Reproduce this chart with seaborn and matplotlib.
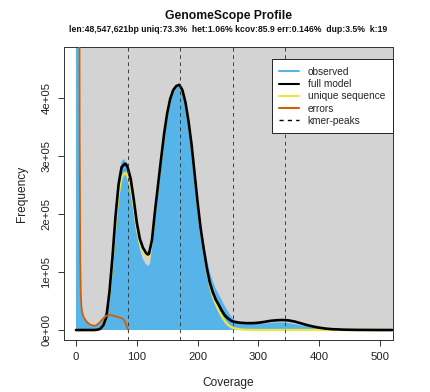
import matplotlib
matplotlib.use("Agg")
import matplotlib.pyplot as plt
import seaborn as sns
import numpy as np
from matplotlib.lines import Line2D
from matplotlib.patches import Rectangle

# ---------------- data (values in units of 1e5) ----------------
cov_model = [0, 30, 35, 40, 45, 50, 55, 60, 65, 70, 75, 80, 82, 85, 90, 95, 100, 105, 110, 115,
             118, 120, 125, 130, 135, 140, 145, 150, 155, 160, 165, 170, 175, 180, 185, 190, 195, 200, 205, 210,
             215, 220, 225, 230, 235, 240, 245, 250, 255, 260, 270, 280, 290, 300, 310, 320, 330, 340, 350, 360,
             370, 380, 390, 400, 410, 420, 440, 460, 480, 500, 520]
full_model = [0, 0, 0.005, 0.02, 0.08, 0.22, 0.65, 1.25, 1.95, 2.5, 2.8, 2.86, 2.86, 2.8, 2.6, 2.25, 1.85, 1.57, 1.42, 1.33,
              1.3, 1.31, 1.55, 2.05, 2.5, 2.95, 3.38, 3.73, 3.98, 4.13, 4.2, 4.22, 4.13, 3.92, 3.6, 3.2, 2.7, 2.2, 1.75, 1.4,
              1.08, 0.82, 0.65, 0.52, 0.43, 0.33, 0.25, 0.2, 0.16, 0.14, 0.125, 0.118, 0.118, 0.125, 0.14, 0.158, 0.168, 0.172, 0.165, 0.145,
              0.115, 0.085, 0.06, 0.04, 0.025, 0.015, 0.006, 0.002, 0.001, 0, 0]
unique_seq = [0, 0, 0.004, 0.018, 0.07, 0.2, 0.6, 1.15, 1.8, 2.32, 2.62, 2.7, 2.7, 2.64, 2.45, 2.12, 1.74, 1.49, 1.36, 1.28,
              1.26, 1.28, 1.52, 2.03, 2.48, 2.93, 3.37, 3.72, 3.97, 4.12, 4.19, 4.21, 4.12, 3.91, 3.58, 3.18, 2.68, 2.17, 1.71, 1.36,
              1.04, 0.77, 0.58, 0.44, 0.33, 0.23, 0.15, 0.09, 0.05, 0.03, 0.01, 0.004, 0.001, 0, 0, 0, 0, 0, 0, 0,
              0, 0, 0, 0, 0, 0, 0, 0, 0, 0, 0]

cov_obs = [0, 1, 2, 3, 4, 5, 6, 7, 8, 9, 10, 12, 15, 18, 21, 25, 29, 33, 38, 44,
           50, 55, 60, 65, 70, 75, 78, 80, 85, 90, 95, 100, 105, 110, 115, 119, 122, 125, 130, 135,
           140, 145, 150, 155, 160, 165, 170, 175, 180, 185, 190, 195, 200, 205, 210, 215, 220, 225, 230, 235,
           240, 245, 250, 255, 260, 270, 280, 290, 300, 310, 320, 330, 340, 350, 360, 370, 380, 390, 400, 420,
           440, 460, 480, 500, 520, 540]
observed = [0, 90, 60, 40, 30, 8, 2.5, 1.0, 0.6, 0.4, 0.32, 0.24, 0.18, 0.14, 0.11, 0.085, 0.075, 0.08, 0.12, 0.2,
            0.33, 0.75, 1.4, 2.1, 2.65, 2.9, 2.94, 2.93, 2.8, 2.55, 2.15, 1.72, 1.4, 1.22, 1.13, 1.1, 1.15, 1.4, 1.97, 2.48,
            2.95, 3.38, 3.73, 3.98, 4.14, 4.21, 4.23, 4.14, 3.93, 3.62, 3.23, 2.75, 2.27, 1.85, 1.52, 1.24, 1.0, 0.84, 0.71, 0.61,
            0.51, 0.41, 0.32, 0.24, 0.18, 0.135, 0.115, 0.105, 0.105, 0.11, 0.12, 0.13, 0.13, 0.12, 0.1, 0.08, 0.06, 0.045, 0.032, 0.016,
            0.008, 0.005, 0.003, 0.002, 0.001, 0.001]

cov_err = [4, 5, 6, 7, 8, 9, 10, 12, 15, 18, 21, 25, 29, 33, 38, 44, 50, 56, 62, 67, 72, 76, 80, 83, 86]
errors = [40, 12, 3.5, 1.2, 0.6, 0.4, 0.32, 0.24, 0.18, 0.14, 0.11, 0.085, 0.075, 0.08, 0.12, 0.19, 0.245, 0.26, 0.245, 0.23,
          0.215, 0.2, 0.16, 0.08, 0.0]

kmer_peaks = [85.9, 171.8, 257.7, 343.6]

x_ticks = [0, 100, 200, 300, 400, 500]
y_ticks = [0, 1e5, 2e5, 3e5, 4e5]
y_tick_labels = ["0e+00", "1e+05", "2e+05", "3e+05", "4e+05"]

legend_labels = ["observed", "full model", "unique sequence", "errors", "kmer-peaks"]
title = "GenomeScope Profile"
subtitle = "len:48,547,621bp uniq:73.3%  het:1.06% kcov:85.9 err:0.146%  dup:3.5%  k:19"

SCALE = 1e5
C_OBS = "#56B4E9"
C_UNIQ = "#F0E442"
C_ERR = "#D55E00"
C_BG = "#D3D3D3"

# ---------------- plot ----------------
sns.set_theme(style="white")
plt.rcParams['font.family'] = ['Liberation Sans', 'DejaVu Sans']

W, H = 430, 392
fig = plt.figure(figsize=(W / 100, H / 100), dpi=100)
L, R, T, B = 64, 393, 47, 340
ax = fig.add_axes([L / W, 1 - B / H, (R - L) / W, (B - T) / H])
ax.set_xlim(-19.7, 521.4)
ax.set_ylim(-17200, 487100)

ax.add_patch(Rectangle((0, 0), 1e4, 1e8, facecolor=C_BG, edgecolor='none', zorder=0))

obs_y = [v * SCALE for v in observed]
ax.fill_between(cov_obs, 0, obs_y, color=C_OBS, lw=0, zorder=1)

sns.lineplot(x=cov_model, y=[v * SCALE for v in unique_seq], ax=ax, color=C_UNIQ, lw=1.6,
             estimator=None, sort=False, zorder=3)
sns.lineplot(x=cov_model, y=[v * SCALE for v in full_model], ax=ax, color="black", lw=1.9,
             estimator=None, sort=False, zorder=4)
sns.lineplot(x=cov_err, y=[v * SCALE for v in errors], ax=ax, color=C_ERR, lw=1.3,
             estimator=None, sort=False, zorder=5)
for p in kmer_peaks:
    ax.axvline(p, color="#333333", lw=0.65, ls=(0, (4, 4)), zorder=6)

ax.set_xticks(x_ticks)
ax.set_xticklabels([str(t) for t in x_ticks])
ax.set_yticks(y_ticks)
ax.set_yticklabels(y_tick_labels, rotation=90, va='center')
ax.tick_params(axis='both', direction='out', length=4.5, width=0.7, color='#333333',
               labelsize=8.2, pad=4.5, labelcolor='#222222', bottom=True, left=True)
for s in ax.spines.values():
    s.set_visible(True)
    s.set_color('#333333')
    s.set_linewidth(0.7)

ax.set_xlabel("Coverage", fontsize=8.6, color='#222222')
ax.set_ylabel("Frequency", fontsize=8.6, color='#222222')
ax.xaxis.set_label_coords(0.5, -(382.7 - B) / (B - T))
ax.xaxis.label.set_va('center')
ax.yaxis.set_label_coords((21.7 - L) / (R - L), 0.5)
ax.yaxis.label.set_va('center')

fig.text(228.5 / W, 1 - 15.7 / H, title, ha='center', va='center', fontsize=8.7, fontweight='bold', color='#111111')
fig.text(228.5 / W, 1 - 29 / H, subtitle, ha='center', va='center', fontsize=6.2, fontweight='bold', color='#111111')

handles = [Line2D([], [], color=C_OBS, lw=1.5),
           Line2D([], [], color="black", lw=1.5),
           Line2D([], [], color=C_UNIQ, lw=1.5),
           Line2D([], [], color=C_ERR, lw=1.5),
           Line2D([], [], color="black", lw=1.0, ls=(0, (3, 3)))]
leg = ax.legend(handles, legend_labels, loc='upper right', bbox_to_anchor=((392.7 - L) / (R - L), (B - 59.3) / (B - T)),
                borderaxespad=0, fontsize=7.3, frameon=True, fancybox=False, framealpha=1,
                edgecolor='#222222', handlelength=1.9, handletextpad=0.9, labelspacing=0.22,
                borderpad=0.75)
leg.get_frame().set_linewidth(0.7)
leg.set_zorder(10)

fig.savefig("out.png", dpi=100)
